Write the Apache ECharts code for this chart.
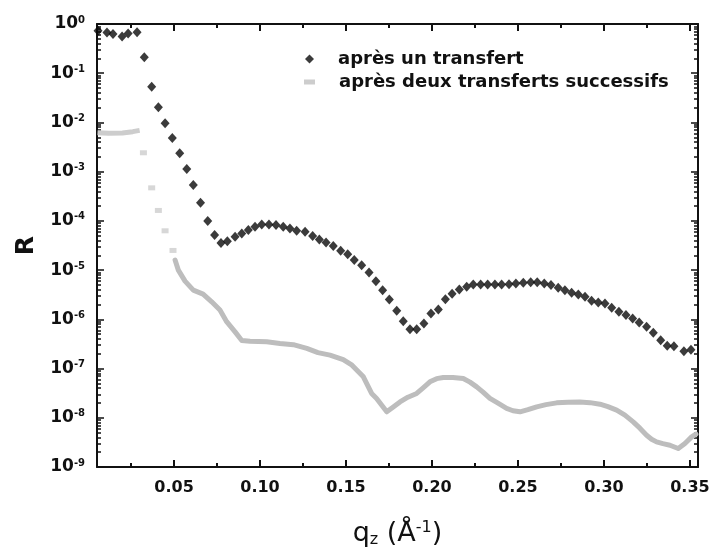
<!DOCTYPE html>
<html>
<head>
<meta charset="utf-8">
<script src="https://cdn.jsdelivr.net/npm/echarts@6/dist/echarts.min.js"></script>
<style>
html,body{margin:0;padding:0;background:#fff;}
#chart{width:713px;height:554px;}
</style>
</head>
<body>
<div id="chart"></div>
<script>
// ---- data ----
const seriesNames = ['après un transfert', 'après deux transferts successifs'];

// black diamonds: après un transfert
const qBlack = [0.0058,0.0110,0.0145,0.0198,0.0233,0.0285,
  0.0327,0.0370,0.0409,0.0448,0.0490,0.0533,0.0574,0.0612,0.0654,0.0696,0.0736,0.0773,
  0.0810,0.0855,0.0894,0.0932,0.0971,0.1010,0.1052,0.1093,0.1135,0.1174,0.1213,0.1262,
  0.1306,0.1345,0.1384,0.1426,0.1469,0.1510,0.1548,0.1591,0.1634,0.1674,0.1713,0.1752,
  0.1795,0.1833,0.1872,0.1911,0.1953,0.1994,0.2037,0.2078,0.2117,0.2159,0.2202,0.2240,
  0.2283,0.2324,0.2366,0.2405,0.2448,0.2488,0.2531,0.2574,0.2612,0.2653,0.2692,0.2734,
  0.2773,0.2812,0.2851,0.2890,0.2928,0.2967,0.3006,0.3045,0.3087,0.3128,0.3167,0.3205,
  0.3248,0.3287,0.3330,0.3368,0.3407,0.3465,0.3506];
const rBlack = [0.73,0.67,0.63,0.56,0.64,0.68,
  0.210,0.0532,0.0203,0.00959,0.00482,0.00236,0.00113,5.34e-4,2.33e-4,9.9e-5,5.19e-5,3.54e-5,
  3.88e-5,4.75e-5,5.57e-5,6.50e-5,7.59e-5,8.49e-5,8.49e-5,8.22e-5,7.59e-5,7.04e-5,6.29e-5,6.0e-5,
  4.91e-5,4.21e-5,3.66e-5,3.08e-5,2.47e-5,2.09e-5,1.60e-5,1.26e-5,8.98e-6,5.97e-6,3.92e-6,2.54e-6,
  1.49e-6,9.19e-7,6.32e-7,6.32e-7,8.26e-7,1.32e-6,1.59e-6,2.55e-6,3.30e-6,4.06e-6,4.58e-6,5.12e-6,
  5.12e-6,5.12e-6,5.12e-6,5.12e-6,5.19e-6,5.37e-6,5.52e-6,5.70e-6,5.70e-6,5.37e-6,4.96e-6,4.37e-6,
  3.92e-6,3.46e-6,3.21e-6,2.86e-6,2.38e-6,2.20e-6,2.10e-6,1.71e-6,1.42e-6,1.22e-6,1.04e-6,8.65e-7,
  7.04e-7,5.32e-7,3.78e-7,2.89e-7,2.85e-7,2.26e-7,2.42e-7];

// grey: après deux transferts successifs (low-q plateau, sparse points, then continuous curve)
const qGrayFlat = [0.0055,0.0120,0.0200,0.0260,0.0300];
const rGrayFlat = [6.2e-3,6.0e-3,6.1e-3,6.5e-3,6.9e-3];
const qGrayDots = [0.0322,0.0370,0.0409,0.0448,0.0494];
const rGrayDots = [2.42e-3,4.69e-4,1.63e-4,6.29e-5,2.51e-5];
const qGrayCurve = [0.0506,0.0525,0.0564,0.0612,0.0669,0.0719,0.0767,0.0806,0.0855,0.0894,
  0.0942,0.1039,0.1116,0.1194,0.1272,0.1337,0.1407,0.1484,0.1535,0.1601,0.1649,0.1678,
  0.1737,0.1773,0.1814,0.1860,0.1911,0.1947,0.1988,0.2027,0.2066,0.2122,0.2182,0.2221,
  0.2260,0.2297,0.2337,0.2384,0.2434,0.2471,0.2512,0.2558,0.2609,0.2663,0.2725,0.2791,
  0.2860,0.2919,0.2977,0.3023,0.3074,0.3122,0.3170,0.3209,0.3248,0.3277,0.3306,0.3343,
  0.3384,0.3432,0.3471,0.3510,0.3535];
const rGrayCurve = [1.60e-5,1.0e-5,5.97e-6,3.92e-6,3.25e-6,2.27e-6,1.54e-6,8.98e-7,5.57e-7,3.72e-7,
  3.60e-7,3.49e-7,3.24e-7,3.06e-7,2.56e-7,2.11e-7,1.87e-7,1.52e-7,1.17e-7,6.78e-8,3.12e-8,2.47e-8,
  1.32e-8,1.64e-8,2.10e-8,2.62e-8,3.12e-8,4.0e-8,5.37e-8,6.24e-8,6.59e-8,6.59e-8,6.29e-8,5.30e-8,
  4.25e-8,3.31e-8,2.47e-8,1.98e-8,1.55e-8,1.39e-8,1.32e-8,1.46e-8,1.67e-8,1.85e-8,2.01e-8,2.07e-8,
  2.10e-8,2.03e-8,1.89e-8,1.68e-8,1.43e-8,1.13e-8,8.26e-9,6.15e-9,4.43e-9,3.67e-9,3.24e-9,2.98e-9,
  2.77e-9,2.38e-9,3.01e-9,4.09e-9,4.65e-9];

// axis ticks
const xMajorTicks = [0.05,0.10,0.15,0.20,0.25,0.30,0.35];
const xMinorTicks = [0.025,0.075,0.125,0.175,0.225,0.275,0.325];
const yDecadeExponents = [-9,-8,-7,-6,-5,-4,-3,-2,-1,0];
const yMinorMantissas = [2,3,4,5,6,7,8,9];

// ---- build ----
const zip = (a, b) => a.map((v, i) => [v, b[i]]);
const yMajor = yDecadeExponents.map(e => Number('1e' + e));
const yMinor = [];
yDecadeExponents.slice(0, -1).forEach(e => yMinorMantissas.forEach(m => yMinor.push(Number(m + 'e' + e))));

const X_MIN = 0.0052, X_MAX = 0.3547;
const AX = '#111';
const FONT = 'DejaVu Sans, Verdana, sans-serif';

function xAxisDef(pos, ticks, len, withLabel, showLine) {
  return {
    type: 'value', position: pos, min: X_MIN, max: X_MAX,
    axisLine: {show: showLine, onZero: false, lineStyle: {color: AX, width: 2}},
    axisTick: {show: true, inside: true, length: len, customValues: ticks, lineStyle: {color: AX, width: 2}},
    axisLabel: withLabel ? {
      show: true, customValues: ticks, margin: 13,
      formatter: v => v.toFixed(2),
      color: '#111', fontFamily: FONT, fontWeight: 'bold', fontSize: 16
    } : {show: false},
    splitLine: {show: false}
  };
}
function yAxisDef(pos, ticks, len, withLabel, showLine) {
  return {
    type: 'log', logBase: 10, position: pos, min: 1e-9, max: 1,
    axisLine: {show: showLine, onZero: false, lineStyle: {color: AX, width: 2}},
    axisTick: {show: true, inside: true, length: len, customValues: ticks, lineStyle: {color: AX, width: 1.5}},
    axisLabel: withLabel ? {
      show: true, customValues: ticks, margin: 12,
      formatter: v => '{b|10}{s|' + Math.round(Math.log10(v)) + '}',
      rich: {
        b: {fontFamily: FONT, fontWeight: 'bold', fontSize: 17, color: '#111'},
        s: {fontFamily: FONT, fontWeight: 'bold', fontSize: 10, color: '#111', verticalAlign: 'top', padding: [0, 0, 8, 0]}
      }
    } : {show: false},
    splitLine: {show: false}
  };
}

const xAxes = [
  xAxisDef('bottom', xMajorTicks, 7, true, true),
  xAxisDef('bottom', xMinorTicks, 4, false, false),
  xAxisDef('top', xMajorTicks, 7, false, true),
  xAxisDef('top', xMinorTicks, 4, false, false)
];
xAxes[0].name = 'q{sub|z} (Å{sup|-1})';
xAxes[0].nameLocation = 'middle';
xAxes[0].nameGap = 53;
xAxes[0].nameTextStyle = {
  fontFamily: FONT, fontSize: 27, color: '#111',
  rich: {
    sub: {fontFamily: FONT, fontSize: 16, color: '#111', verticalAlign: 'bottom', padding: [12, 0, 0, 0]},
    sup: {fontFamily: FONT, fontSize: 16, color: '#111', verticalAlign: 'top', padding: [0, 0, 12, 0]}
  }
};

const yAxes = [
  yAxisDef('left', yMajor, 7, true, true),
  yAxisDef('left', yMinor, 4, false, false),
  yAxisDef('right', yMajor, 7, false, true),
  yAxisDef('right', yMinor, 4, false, false)
];
yAxes[0].name = 'R';
yAxes[0].nameLocation = 'middle';
yAxes[0].nameRotate = 90;
yAxes[0].nameGap = 58;
yAxes[0].nameTextStyle = {fontFamily: FONT, fontWeight: 'bold', fontSize: 25, color: '#111'};

const GRAY_LINE = '#bdbdbd', GRAY_DOT = '#cdcdcd';
const legendText = {fontFamily: FONT, fontWeight: 'bold', fontSize: 18, lineHeight: 20, color: '#111', padding: [0, 0, 0, 19]};

const option = {
  animation: false,
  backgroundColor: '#fff',
  grid: {left: 97, right: 15, top: 24, bottom: 87, containLabel: false},
  xAxis: xAxes,
  yAxis: yAxes,
  legend: [
    {data: [{name: seriesNames[0], icon: 'diamond'}], orient: 'vertical', left: 305, top: 49, padding: 0,
     itemWidth: 9, itemHeight: 9, textStyle: legendText, selectedMode: false},
    {data: [{name: seriesNames[1], icon: 'rect'}], orient: 'vertical', left: 304, top: 72, padding: 0,
     itemWidth: 11, itemHeight: 5, textStyle: legendText, selectedMode: false}
  ],
  series: [
    {name: seriesNames[1], type: 'line', data: zip(qGrayFlat, rGrayFlat), showSymbol: false, z: 2,
     itemStyle: {color: GRAY_DOT}, lineStyle: {color: GRAY_DOT, width: 5}},
    {name: seriesNames[1], type: 'scatter', data: zip(qGrayDots, rGrayDots), symbol: 'rect', symbolSize: [7, 5], z: 2,
     itemStyle: {color: GRAY_DOT}},
    {name: seriesNames[1], type: 'line', data: zip(qGrayCurve, rGrayCurve), showSymbol: false, z: 2,
     itemStyle: {color: GRAY_LINE}, lineStyle: {color: GRAY_LINE, width: 5, join: 'round', cap: 'round'}},
    {name: seriesNames[0], type: 'scatter', data: zip(qBlack, rBlack), symbol: 'diamond', symbolSize: [9, 10], z: 5,
     itemStyle: {color: '#0a0a0a'}}
  ]
};

const chart = echarts.init(document.getElementById('chart'), null, {renderer: 'canvas'});
chart.setOption(option);
</script>
</body>
</html>
